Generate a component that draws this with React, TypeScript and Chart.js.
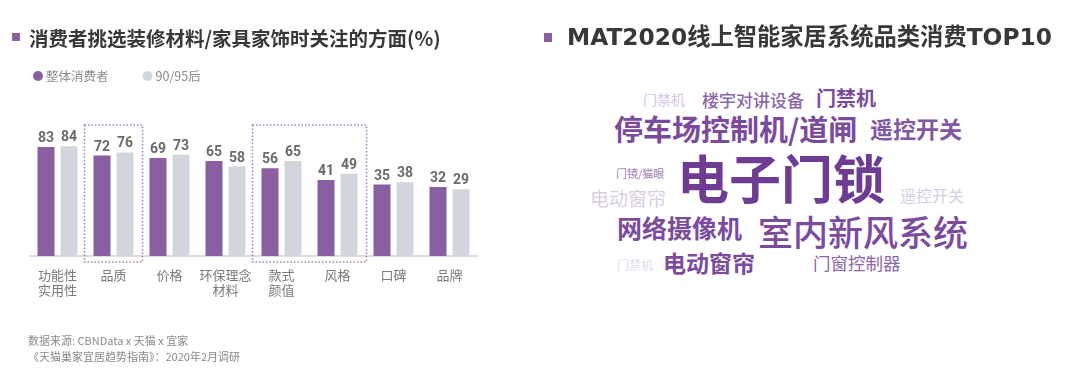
import React, { useEffect, useRef } from "react";
import { Chart, registerables } from "chart.js";

Chart.register(...registerables);

// ---------- data ----------
const categories: (string | string[])[] = [
  ["功能性", "实用性"],
  "品质",
  "价格",
  ["环保理念", "材料"],
  ["款式", "颜值"],
  "风格",
  "口碑",
  "品牌",
];
const seriesNames = ["整体消费者", "90/95后"];
const allConsumers = [83, 72, 69, 65, 56, 41, 35, 32];
const gen9095 = [84, 76, 73, 58, 65, 49, 38, 29];
const highlightGroups = [
  [1, 1],
  [4, 5],
];
const yMin = -56;
const yMax = 111;

const leftTitle = "消费者挑选装修材料/家具家饰时关注的方面(%)";
const rightTitle = "MAT2020线上智能家居系统品类消费TOP10";
const sourceLines = ["数据来源: CBNData x 天猫 x 宜家", "《天猫巢家宜居趋势指南》：2020年2月调研"];

const cloudWords = [
  "门禁机",
  "楼宇对讲设备",
  "门禁机",
  "停车场控制机/道闸",
  "遥控开关",
  "电子门锁",
  "门镜/猫眼",
  "电动窗帘",
  "遥控开关",
  "网络摄像机",
  "室内新风系统",
  "门禁机",
  "电动窗帘",
  "门窗控制器",
];

// layout/style of the word cloud (positions, sizes, colours)
const cloudLayout = [
  { x: 643, y: 99, s: 14, w: 400, c: "#d2c6df" },
  { x: 702, y: 99, s: 17, w: 500, c: "#8c67a9" },
  { x: 816, y: 98, s: 20, w: 700, c: "#7b4c9e" },
  { x: 614, y: 128, s: 29, w: 700, c: "#7a4b9c" },
  { x: 870, y: 128, s: 23, w: 700, c: "#8058a3" },
  { x: 677, y: 177, s: 52, w: 700, c: "#6e3d93" },
  { x: 616, y: 173, s: 11, w: 400, c: "#9c80b6" },
  { x: 590, y: 197, s: 19, w: 400, c: "#d8cee3" },
  { x: 900, y: 195, s: 16, w: 400, c: "#d8cee3" },
  { x: 617, y: 227, s: 25, w: 700, c: "#7b4c9e" },
  { x: 758, y: 230, s: 35, w: 500, c: "#7b4c9e" },
  { x: 617, y: 265, s: 12, w: 400, c: "#e2dbea" },
  { x: 663, y: 262, s: 23, w: 700, c: "#7b4c9e" },
  { x: 813, y: 263, s: 17.5, w: 400, c: "#8c67a9" },
];

const PURPLE = "#8a5fa2";
const GRAY = "#d1d6dd";
const CJK = "'Noto Sans CJK SC', 'Noto Sans', sans-serif";
const TITLE_FONT = "'DejaVu Sans', 'Noto Sans CJK SC', sans-serif";

const valueLabels = {
  id: "valueLabels",
  afterDatasetsDraw(chart: any) {
    const ctx = chart.ctx;
    ctx.save();
    ctx.font = "bold 14px Roboto, 'DejaVu Sans Condensed', sans-serif";
    ctx.fillStyle = "#6a6a6a";
    ctx.textAlign = "center";
    ctx.textBaseline = "alphabetic";
    chart.data.datasets.forEach((ds: any, i: number) => {
      const meta = chart.getDatasetMeta(i);
      meta.data.forEach((bar: any, j: number) => {
        ctx.fillText(String(ds.data[j]), bar.x, bar.y - 5);
      });
    });
    ctx.restore();
  },
};

const highlightBoxes = {
  id: "highlightBoxes",
  afterDatasetsDraw(chart: any) {
    const ctx = chart.ctx;
    const xs = chart.scales.x;
    const area = chart.chartArea;
    ctx.save();
    ctx.strokeStyle = "#a17fc4";
    ctx.lineWidth = 1.5;
    ctx.setLineDash([1.5, 2]);
    highlightGroups.forEach(([a, b]) => {
      const l = xs.getPixelForValue(a) - 29;
      const r = xs.getPixelForValue(b) + 29;
      const t = area.top;
      const bt = area.bottom + 6;
      ctx.strokeRect(l, t, r - l, bt - t);
    });
    ctx.restore();
  },
};

const dotLegend = {
  id: "dotLegend",
  afterDraw(chart: any) {
    const ctx = chart.ctx;
    ctx.save();
    ctx.font = `12.5px ${CJK}`;
    ctx.textBaseline = "middle";
    let x = 33;
    const y = 76;
    chart.data.datasets.forEach((ds: any) => {
      ctx.fillStyle = ds.backgroundColor;
      ctx.beginPath();
      ctx.arc(x + 5, y, 5, 0, Math.PI * 2);
      ctx.fill();
      ctx.fillStyle = "#8c8c8c";
      ctx.textAlign = "left";
      ctx.fillText(ds.label, x + 13, y);
      x = x + 13 + ctx.measureText(ds.label).width + 34;
    });
    ctx.restore();
  },
};

function BarChart() {
  const ref = useRef<HTMLCanvasElement>(null);
  useEffect(() => {
    if (!ref.current) return;
    const chart = new Chart(ref.current, {
      type: "bar",
      data: {
        labels: categories as any,
        datasets: [
          { label: seriesNames[0], data: allConsumers, backgroundColor: PURPLE, base: yMin } as any,
          { label: seriesNames[1], data: gen9095, backgroundColor: GRAY, base: yMin } as any,
        ],
      },
      options: {
        responsive: false,
        animation: false,
        devicePixelRatio: 1,
        layout: { padding: { top: 125, left: 29.5, right: 62.5, bottom: 71 } },
        datasets: { bar: { barPercentage: 17 / 23, categoryPercentage: 46 / 56 } } as any,
        plugins: { legend: { display: false }, tooltip: { enabled: false }, title: { display: false } },
        scales: {
          x: {
            grid: { display: false, drawTicks: false },
            border: { display: true, color: "#dcdcdc", width: 2 },
            ticks: { color: "#7a7a7a", font: { size: 13, family: CJK }, padding: 11, maxRotation: 0, autoSkip: false },
            afterFit: (s: any) => {
              s.height = 50;
            },
          },
          y: { display: false, min: yMin, max: yMax },
        },
      },
      plugins: [valueLabels, highlightBoxes, dotLegend],
    });
    return () => chart.destroy();
  }, []);
  return <canvas ref={ref} width={540} height={377} style={{ position: "absolute", left: 0, top: 0, width: 540, height: 377 }} />;
}

export default function App() {
  return (
    <div
      style={{
        position: "absolute",
        left: 0,
        top: 0,
        width: 1080,
        height: 377,
        background: "#fff",
        overflow: "hidden",
        fontFamily: CJK,
      }}
    >
      <BarChart />
      <div style={{ position: "absolute", left: 12, top: 33, width: 8, height: 8, background: PURPLE }} />
      <div
        style={{
          position: "absolute",
          left: 29,
          top: 38 - 14,
          height: 28,
          lineHeight: "28px",
          fontSize: 19.5,
          fontWeight: 700,
          color: "#383838",
          whiteSpace: "nowrap",
        }}
      >
        {leftTitle}
      </div>
      {sourceLines.map((t, i) => (
        <div
          key={i}
          style={{
            position: "absolute",
            left: 28,
            top: 340 + i * 16 - 8,
            height: 16,
            lineHeight: "16px",
            fontSize: 11,
            color: "#8a8a8a",
            whiteSpace: "nowrap",
          }}
        >
          {t}
        </div>
      ))}
      <div style={{ position: "absolute", left: 544, top: 33, width: 8, height: 9, background: PURPLE }} />
      <div
        style={{
          position: "absolute",
          left: 567,
          top: 37 - 16,
          height: 32,
          lineHeight: "32px",
          fontSize: 23.3,
          fontWeight: 700,
          fontFamily: TITLE_FONT,
          color: "#383838",
          whiteSpace: "nowrap",
        }}
      >
        {rightTitle}
      </div>
      {cloudWords.map((w, i) => {
        const l = cloudLayout[i];
        return (
          <div
            key={i}
            style={{
              position: "absolute",
              left: l.x,
              top: l.y - l.s / 2,
              fontSize: l.s,
              lineHeight: 1,
              height: l.s,
              fontWeight: l.w,
              color: l.c,
              whiteSpace: "nowrap",
            }}
          >
            {w}
          </div>
        );
      })}
    </div>
  );
}
